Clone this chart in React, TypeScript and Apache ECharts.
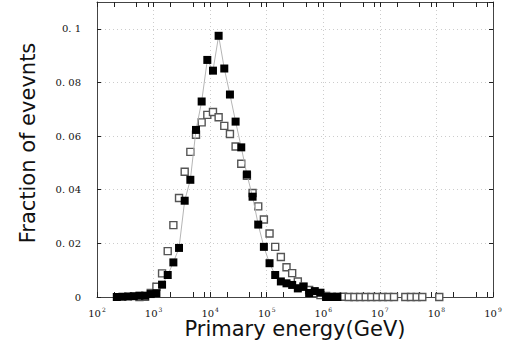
import React, { useEffect, useRef } from "react";
import * as echarts from "echarts";

// log10 of primary energy (GeV), bin centres
const filledLogE = [
  2.35, 2.45, 2.55, 2.65, 2.75, 2.85, 2.95, 3.05, 3.15, 3.25, 3.35, 3.45, 3.55,
  3.65, 3.75, 3.85, 3.95, 4.05, 4.15, 4.25, 4.35, 4.45, 4.55, 4.65, 4.75, 4.85,
  4.95, 5.05, 5.15, 5.25, 5.35, 5.45, 5.55, 5.65, 5.75, 5.85, 5.95, 6.05, 6.15,
  6.25,
];
const filledFrac = [
  0.0, 0.0001, 0.0002, 0.0003, 0.0005, 0.0005, 0.0011, 0.0014, 0.0046, 0.0082,
  0.0129, 0.0183, 0.0359, 0.0437, 0.0623, 0.0729, 0.0884, 0.0844, 0.0974,
  0.0852, 0.0755, 0.0654, 0.0558, 0.0457, 0.0374, 0.027, 0.0187, 0.0126,
  0.0082, 0.0058, 0.0051, 0.0045, 0.0032, 0.0038, 0.0015, 0.0022, 0.0016, 0.0,
  0.0, 0.0,
];

const openLogE = [
  2.75, 2.85, 2.95, 3.05, 3.15, 3.25, 3.35, 3.45, 3.55, 3.65, 3.75, 3.85, 3.95,
  4.05, 4.15, 4.25, 4.35, 4.45, 4.55, 4.65, 4.75, 4.85, 4.95, 5.05, 5.15, 5.25,
  5.35, 5.45, 5.55, 5.65, 5.75, 5.85, 5.95, 6.05, 6.15, 6.25, 6.35, 6.45, 6.55,
  6.65, 6.75, 6.85, 6.95, 7.05, 7.15, 7.25, 7.45, 7.55, 7.65, 7.75, 8.05,
];
const openFrac = [
  0.0, 0.0001, 0.0015, 0.0038, 0.0088, 0.0171, 0.0268, 0.0369, 0.0467, 0.0541,
  0.0605, 0.0651, 0.0679, 0.069, 0.067, 0.0638, 0.0608, 0.0561, 0.0497, 0.0452,
  0.0388, 0.0338, 0.0289, 0.0237, 0.0187, 0.0149, 0.0111, 0.0089, 0.0058,
  0.0039, 0.0026, 0.0014, 0.0007, 0.0004, 0.0001, 0.0001, 0.0001, 0.0, 0.0,
  0.0, 0.0, 0.0, 0.0, 0.0, 0.0, 0.0, 0.0, 0.0, 0.0, 0.0, 0.0,
];

const xMin = 1e2;
const xMax = 1e9;
const yMin = 0;
const yMax = 0.11;
const yStep = 0.02;
const xTickMultipliers = [1, 2, 5, 8];
const xTitle = "Primary energy(GeV)";
const yTitle = "Fraction of evevnts";

export default function App() {
  const ref = useRef<HTMLDivElement>(null);

  useEffect(() => {
    if (!ref.current) return;
    const chart = echarts.init(ref.current, undefined, { renderer: "svg" });

    const tickValues: number[] = [];
    for (let d = 2; d <= 9; d++) {
      for (const m of xTickMultipliers) {
        const v = m * Math.pow(10, d);
        if (v <= xMax) tickValues.push(v);
      }
    }

    const serif = "DejaVu Serif";
    const axisColor = "#444";

    const xLabelFormatter = (v: number) => {
      const e = Math.round(Math.log10(v));
      return `{b|10}{s|${e}}`;
    };

    const baseX = {
      type: "log",
      logBase: 10,
      min: xMin,
      max: xMax,
      minorTick: { show: false },
    };
    const tickStyle = {
      show: true,
      inside: true,
      length: 5,
      customValues: tickValues,
      lineStyle: { color: "#222", width: 1 },
    };

    chart.setOption({
      animation: false,
      backgroundColor: "#fff",
      grid: { left: 97, right: 22, top: 2, bottom: 56, containLabel: false },
      xAxis: [
        {
          ...baseX,
          position: "bottom",
          axisLine: { show: true, onZero: false, lineStyle: { color: axisColor, width: 1 } },
          axisTick: { show: false },
          splitLine: {
            show: true,
            lineStyle: { color: "#ccc", type: [1, 3], width: 1 },
          },
          axisLabel: {
            show: true,
            margin: 9,
            formatter: xLabelFormatter,
            rich: {
              b: { fontFamily: serif, fontSize: 10, color: "#111", lineHeight: 12, verticalAlign: "bottom" },
              s: { fontFamily: serif, fontSize: 6, color: "#111", verticalAlign: "top", padding: [0, 0, 5, 1] },
            },
          },
        },
        {
          ...baseX,
          position: "top",
          axisLine: { show: true, onZero: false, lineStyle: { color: axisColor, width: 1 } },
          axisTick: tickStyle,
          splitLine: { show: false },
          axisLabel: { show: false },
        },
        {
          ...baseX,
          position: "bottom",
          axisLine: { show: false, onZero: false },
          axisTick: tickStyle,
          splitLine: { show: false },
          axisLabel: { show: false },
        },
      ],
      yAxis: [
        {
          type: "value",
          min: yMin,
          max: yMax,
          interval: yStep,
          position: "left",
          axisLine: { show: true, lineStyle: { color: axisColor, width: 1 } },
          axisTick: { show: true, inside: true, length: 4, lineStyle: { color: "#222" } },
          splitLine: {
            show: true,
            lineStyle: { color: "#ccc", type: [1, 3], width: 1 },
          },
          axisLabel: {
            margin: 16,
            fontFamily: serif,
            fontSize: 10,
            color: "#111",
            showMaxLabel: false,
            formatter: (v: number) => {
              if (v > 0.1001) return "";
              if (v === 0) return "0";
              const s = (Math.round(v * 100) / 100).toString();
              return s.replace(".", ". ");
            },
          },
        },
        {
          type: "value",
          min: yMin,
          max: yMax,
          interval: yStep,
          position: "right",
          axisLine: { show: true, lineStyle: { color: axisColor, width: 1 } },
          axisTick: { show: true, inside: true, length: 4, lineStyle: { color: "#222" } },
          splitLine: { show: false },
          axisLabel: { show: false },
        },
      ],
      graphic: [
        {
          type: "text",
          x: 295,
          y: 329,
          style: {
            text: xTitle,
            font: '21px "DejaVu Sans"',
            fill: "#111",
            align: "center",
            verticalAlign: "middle",
          },
        },
        {
          type: "text",
          x: 28,
          y: 143,
          rotation: Math.PI / 2,
          style: {
            text: yTitle,
            font: '21px "DejaVu Sans"',
            fill: "#111",
            align: "center",
            verticalAlign: "middle",
          },
        },
      ],
      series: [
        {
          type: "scatter",
          xAxisIndex: 0,
          yAxisIndex: 0,
          symbol: "rect",
          symbolSize: 7,
          itemStyle: { color: "#fff", borderColor: "#555", borderWidth: 1.4, opacity: 1 },
          data: openLogE.map((l, i) => [Math.pow(10, l), openFrac[i]]),
          z: 3,
        },
        {
          type: "line",
          xAxisIndex: 0,
          yAxisIndex: 0,
          symbol: "rect",
          symbolSize: 8,
          showSymbol: true,
          lineStyle: { color: "#b5b5b5", width: 1 },
          itemStyle: { color: "#000" },
          data: filledLogE.map((l, i) => [Math.pow(10, l), filledFrac[i]]),
          z: 4,
        },
      ],
    });

    return () => chart.dispose();
  }, []);

  return (
    <div
      ref={ref}
      style={{ position: "fixed", left: 0, top: 0, width: 515, height: 353, background: "#fff" }}
    />
  );
}
